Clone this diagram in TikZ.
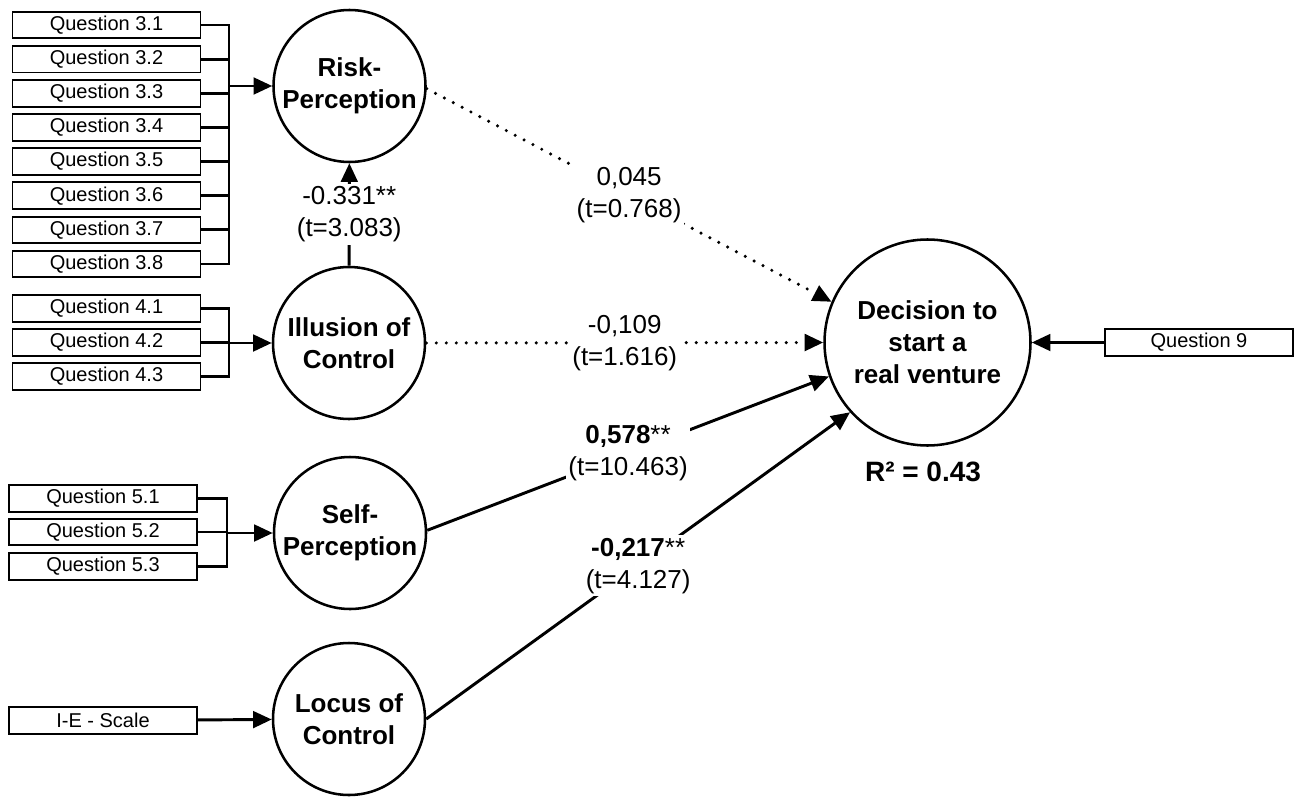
\documentclass[tikz,border=0pt]{standalone}
\usepackage{fontspec}
\setmainfont{Liberation Sans}
\usetikzlibrary{arrows.meta}
\begin{document}
\begin{tikzpicture}[x=0.75pt,y=-0.75pt,
  qbox/.style={draw,line width=1.4pt,minimum width=141pt,minimum height=20pt,inner sep=0pt,font=\fontsize{15}{18}\selectfont},
  latent/.style={circle,draw,line width=1.9pt,minimum size=114pt,inner sep=0pt,align=center,font=\fontsize{19.5}{24}\selectfont\bfseries},
  conn/.style={line width=2.2pt},
  arr/.style={conn,-{Triangle[length=14pt,width=12.5pt]}},
  dotarr/.style={arr,line width=2.6pt,line cap=round,dash pattern=on 0pt off 7.5pt},
  coef/.style={fill=white,inner sep=2pt,align=center,font=\fontsize{19.5}{24}\selectfont}]
\useasboundingbox (0,0) rectangle (1306,796);

% indicator boxes
\foreach \i/\y in {1/25,2/59.1,3/93.3,4/127.4,5/161.6,6/195.7,7/229.9,8/264}
  \node[qbox] (q3\i) at (106.5,\y) {Question 3.\i};
\node[qbox] (q41) at (106.5,308.5) {Question 4.1};
\node[qbox] (q42) at (106.5,342.5) {Question 4.2};
\node[qbox] (q43) at (106.5,376.5) {Question 4.3};
\node[qbox] (q51) at (103,498.5) {Question 5.1};
\node[qbox] (q52) at (103,532) {Question 5.2};
\node[qbox] (q53) at (103,566.5) {Question 5.3};
\node[qbox] (ie) at (103,720.5) {I-E - Scale};
\node[qbox] (q9) at (1199,342.5) {Question 9};

% latent variables
\node[latent] (risk) at (349.5,86) {Risk-\\Perception};
\node[latent] (illus) at (349,343) {Illusion of\\Control};
\node[latent] (self) at (350,533) {Self-\\Perception};
\node[latent] (locus) at (349,719) {Locus of\\Control};
\node[latent,minimum size=154.5pt] (dec) at (927.5,342.5) {Decision to\\start a\\real venture};
\node[font=\fontsize{21}{25}\selectfont\bfseries] (r2) at (923,472) {R² = 0.43};

% brackets
\coordinate (b3t) at (229,25);
\coordinate (b3b) at (229,264);
\coordinate (b4t) at (229,308.5);
\coordinate (b4b) at (229,376.5);
\coordinate (b5t) at (227,498.5);
\coordinate (b5b) at (227,566.5);
\foreach \i in {1,...,8} \draw[conn] (q3\i.east) -- (q3\i.east -| b3t);
\draw[conn,line cap=rect] (b3t) -- (b3b);
\draw[arr] (risk.west -| b3t) -- (risk.west);
\foreach \i in {1,2,3} \draw[conn] (q4\i.east) -- (q4\i.east -| b4t);
\draw[conn,line cap=rect] (b4t) -- (b4b);
\draw[arr] (illus.west -| b4t) -- (illus.west);
\foreach \i in {1,2,3} \draw[conn] (q5\i.east) -- (q5\i.east -| b5t);
\draw[conn,line cap=rect] (b5t) -- (b5b);
\draw[arr] (self.west -| b5t) -- (self.west);
\draw[arr] (ie) -- (locus);
\draw[arr] (q9) -- (dec);

% structural paths
\draw[arr] (illus) -- node[coef] {-0.331**\\(t=3.083)} (risk);
\draw[dotarr] (risk.-2) -- node[coef] {0,045\\(t=0.768)} (dec.157.4);
\draw[dotarr] (illus.east) -- node[coef] {-0,109\\(t=1.616)} (dec.west);
\draw[arr] (self.2) -- node[coef] {\textbf{0,578}**\\(t=10.463)} (dec.199.8);
\draw[arr] (locus.east) -- node[coef] {\textbf{-0,217}**\\(t=4.127)} (dec.222.5);
\end{tikzpicture}
\end{document}
